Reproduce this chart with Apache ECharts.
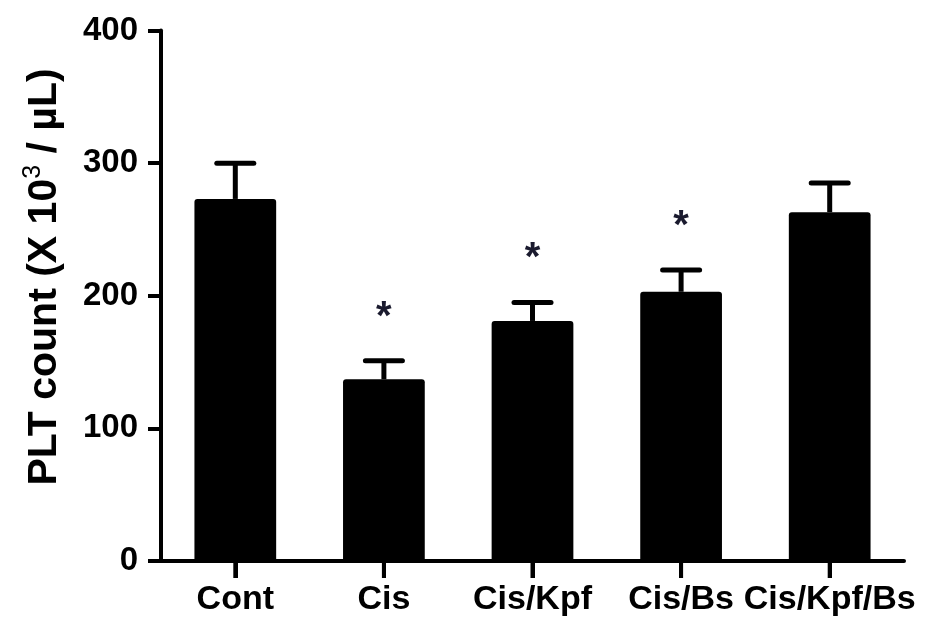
<!DOCTYPE html>
<html><head><meta charset="utf-8">
<script src="https://cdn.jsdelivr.net/npm/echarts@6/dist/echarts.min.js"></script>
<style>html,body{margin:0;padding:0;background:#fff}#c{width:941px;height:619px}</style>
</head><body><div id="c"></div>
<script>
const categories = ['Cont', 'Cis', 'Cis/Kpf', 'Cis/Bs', 'Cis/Kpf/Bs'];
const means = [273, 137, 181, 203, 263];
const upperErr = [300, 151, 195, 219.5, 285];
const sig = ['', '*', '*', '*', ''];
const yTicks = [0, 100, 200, 300, 400];

const FONT = '"Liberation Sans", Arial, sans-serif';
const chart = echarts.init(document.getElementById('c'), null, {renderer: 'canvas'});
chart.setOption({
  backgroundColor: '#fff',
  animation: false,
  grid: {left: 161, right: 37, top: 30.5, bottom: 58, containLabel: false},
  xAxis: {
    type: 'category',
    data: categories,
    axisLine: {lineStyle: {color: '#000', width: 4}},
    axisTick: {show: true, alignWithLabel: true, interval: 0, length: 17, lineStyle: {color: '#000', width: 4}},
    axisLabel: {color: '#000', fontFamily: FONT, fontWeight: 'bold', fontSize: 34, margin: 22, interval: 0, hideOverlap: false, backgroundColor: 'transparent'}
  },
  yAxis: {
    type: 'value',
    min: yTicks[0], max: yTicks[yTicks.length - 1], interval: yTicks[1] - yTicks[0],
    axisLine: {show: true, lineStyle: {color: '#000', width: 4}},
    axisTick: {show: true, length: 13, lineStyle: {color: '#000', width: 4}},
    axisLabel: {color: '#000', fontFamily: FONT, fontWeight: 'bold', fontSize: 33, margin: 23},
    splitLine: {show: false}
  },
  graphic: [{
    type: 'text',
    x: 43, y: 277,
    rotation: Math.PI / 2,
    style: {
      text: '{a|PLT count (X 10}{b|3}{a| / µL)}',
      align: 'center', verticalAlign: 'middle',
      rich: {
        a: {fontFamily: FONT, fontWeight: 'bold', fontSize: 41, fill: '#000', verticalAlign: 'bottom'},
        b: {fontFamily: FONT, fontWeight: 'normal', fontSize: 25, fill: '#000', verticalAlign: 'bottom', padding: [0, 0, 19, 0]}
      }
    }
  }],
  series: [{
    type: 'bar',
    data: means,
    barWidth: '55%',
    itemStyle: {color: '#000', borderRadius: [3, 3, 0, 0]},
    z: 2
  }, {
    type: 'custom',
    z: 3,
    clip: false,
    data: categories.map((c, i) => [i, means[i], upperErr[i]]),
    encode: {x: 0, y: 2},
    renderItem: function (params, api) {
      const i = api.value(0);
      const base = api.coord([i, api.value(1)]);
      const top = api.coord([i, api.value(2)]);
      const half = 18.5;
      const children = [
        {type: 'line', shape: {x1: base[0], y1: base[1], x2: top[0], y2: top[1]}, style: {stroke: '#000', lineWidth: 5}},
        {type: 'line', shape: {x1: top[0] - half, y1: top[1], x2: top[0] + half, y2: top[1]}, style: {stroke: '#000', lineWidth: 5, lineCap: 'round'}}
      ];
      if (sig[i]) {
        children.push({type: 'text', x: top[0], y: top[1] - 43,
          style: {text: sig[i], fill: '#1a1a2e', font: 'bold 40px ' + FONT, align: 'center', verticalAlign: 'middle'}});
      }
      return {type: 'group', children: children};
    }
  }, {
    type: 'custom',
    zlevel: 1,
    z: 10,
    clip: false,
    silent: true,
    data: categories.map((c, i) => [i, 0]),
    encode: {x: 0, y: 1},
    renderItem: function (params, api) {
      const p = api.coord([api.value(0), 0]);
      return {type: 'rect', shape: {x: p[0] - 2, y: p[1] - 40, width: 4, height: 57}, style: {fill: '#000'}};
    }
  }]
});
</script></body></html>
